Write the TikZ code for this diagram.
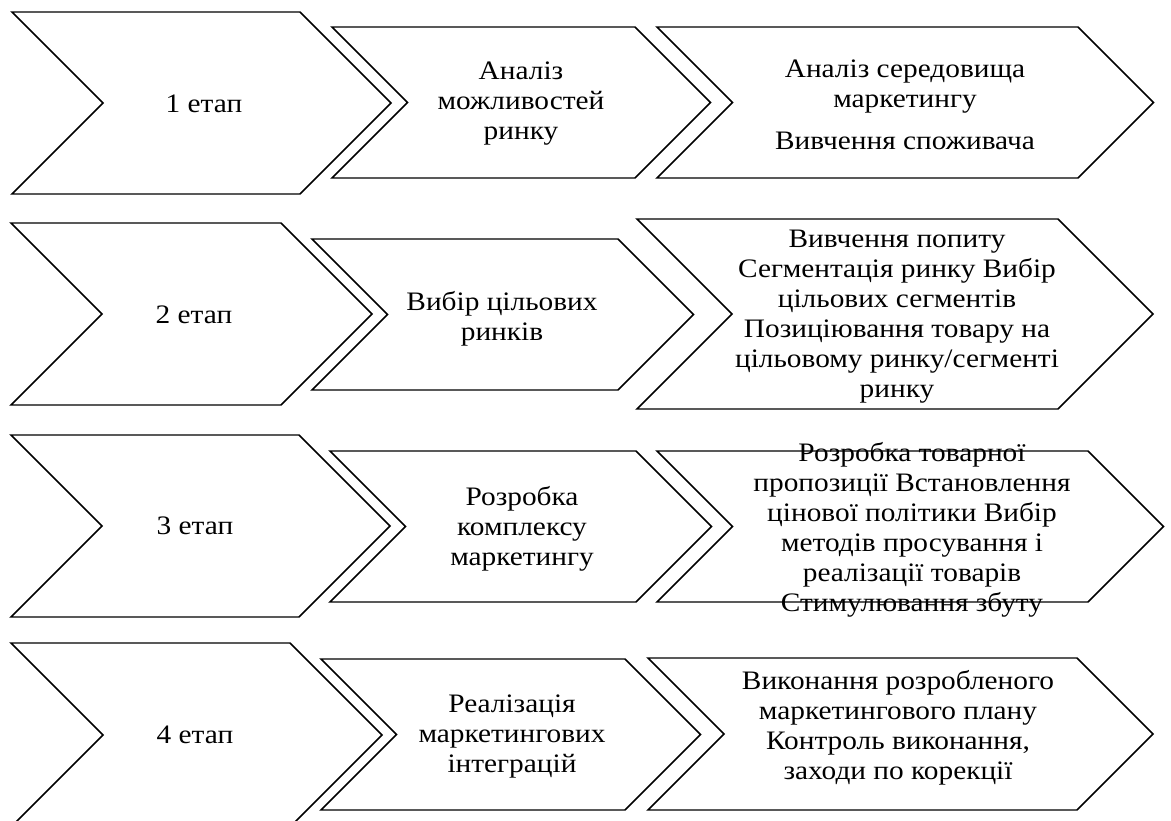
\documentclass[tikz,border=0pt]{standalone}
\usepackage{fontspec}
\setmainfont{Liberation Serif}[FakeStretch=1.1]
\newcommand{\chev}[4]{\draw[chevline] (#1,#2) -- ++(#3,0) -- ++(#4/2,#4/2) -- ++(-#4/2,#4/2) -- ++(-#3,0) -- ++(#4/2,-#4/2) -- cycle;}
\begin{document}
\begin{tikzpicture}[x=0.75pt,y=-0.75pt,
  chevline/.style={line width=1.1pt, line join=miter},
  txt/.style={align=center, inner sep=0pt, font=\fontsize{20}{22.5}\selectfont}]
\useasboundingbox (0,0) rectangle (1171,821);
\clip (0,0) rectangle (1171,821);
\chev{12}{12}{288}{182}
\chev{332}{27}{303}{151}
\chev{657}{27}{421}{151}
\chev{11}{223}{270}{182}
\chev{312}{239}{306}{151}
\chev{637}{219}{421}{190}
\chev{11}{435}{288}{182}
\chev{330}{451}{306}{151}
\chev{657}{451}{431}{151}
\chev{11}{643}{279}{184}
\chev{321}{659}{304}{151}
\chev{648}{658}{429}{152}
\node[txt] (st1) at (204,104){1 етап};
\node[txt] (an1) at (521,104){Аналіз\\можливостей\\ринку};
\node[txt] (rt1) at (905,105){Аналіз середовища\\маркетингу\\[9pt]Вивчення споживача};
\node[txt] (st2) at (194,315){2 етап};
\node[txt] (an2) at (502,319){Вибір цільових\\ринків};
\node[txt] (rt2) at (897,317){Вивчення попиту\\Сегментація ринку Вибір\\цільових сегментів\\Позиціювання товару на\\цільовому ринку/сегменті\\ринку};
\node[txt] (st3) at (195,526){3 етап};
\node[txt] (an3) at (522,529){Розробка\\комплексу\\маркетингу};
\node[txt] (rt3) at (912,530){Розробка товарної\\пропозиції Встановлення\\цінової політики Вибір\\методів просування і\\реалізації товарів\\Стимулювання збуту};
\node[txt] (st4) at (195,735){4 етап};
\node[txt] (an4) at (512,737){Реалізація\\маркетингових\\інтеграцій};
\node[txt] (rt4) at (898,728){Виконання розробленого\\маркетингового плану\\Контроль виконання,\\заходи по корекції};
\end{tikzpicture}
\end{document}
